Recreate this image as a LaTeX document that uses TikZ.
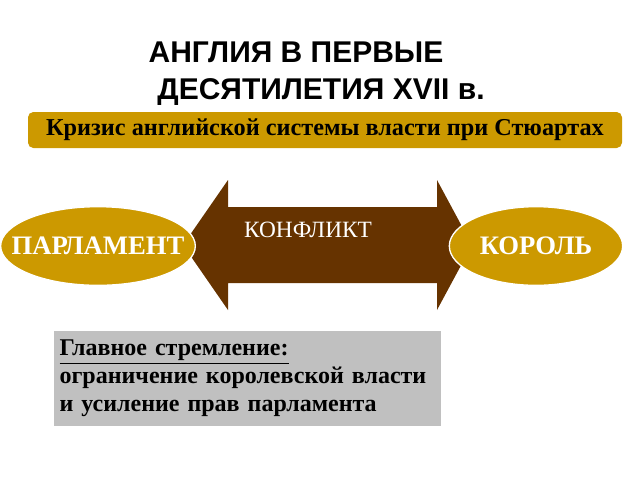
\documentclass[tikz,border=0pt]{standalone}
\usepackage{fontspec}
\setmainfont{Liberation Serif}
\newfontfamily\titlefont{Liberation Sans}
\usetikzlibrary{shapes.geometric}
\definecolor{gold}{HTML}{CC9900}
\definecolor{brownc}{HTML}{663300}
\definecolor{grayc}{HTML}{C0C0C0}
\tikzset{oval/.style={ellipse,fill=gold,draw=white,line width=1pt,inner sep=0pt},
ovaltext/.style={text=white,font=\bfseries\fontsize{20}{20}\selectfont}}
\begin{document}
\begin{tikzpicture}[x=0.75pt,y=-0.75pt]
\useasboundingbox (0,0) rectangle (640,480);
\node (t1) at (296,52) {\titlefont\bfseries\fontsize{22.5}{22.5}\selectfont АНГЛИЯ В ПЕРВЫЕ};
\node (t2) at (321,92) {\titlefont\bfseries\fontsize{22.5}{22.5}\selectfont ДЕСЯТИЛЕТИЯ XVII в.};
\node (banner) [fill=gold,rounded corners=4pt,minimum width=445.5pt,minimum height=27pt,inner sep=0pt,font=\bfseries\fontsize{18.2}{18.2}\selectfont] at (325,130) {Кризис английской системы власти при Стюартах};
\fill[brownc] (183,245) -- (228,180) -- (228,207) -- (437,207) -- (437,180) -- (472,245) -- (437,310) -- (437,283) -- (228,283) -- (228,310) -- cycle;
\node (conf) [text=white,font=\fontsize{17.5}{17.5}\selectfont] at (308,230) {КОНФЛИКТ};
\node (parl) [oval,minimum width=146pt,minimum height=59pt] at (98,246) {};
\node (parlt) [ovaltext] at (parl.center) {ПАРЛАМЕНТ};
\node (king) [oval,minimum width=130pt,minimum height=59pt] at (536,246) {};
\node (kingt) [ovaltext] at (king.center) {КОРОЛЬ};
\node (goal) [fill=grayc,minimum width=290pt,minimum height=71pt,anchor=north west,align=left,inner sep=4pt,text width=282pt,font=\bfseries\fontsize{18}{21}\selectfont] at (54,331) {\underline{Главное стремление:}\\ограничение королевской власти\\и усиление прав парламента};
\end{tikzpicture}
\end{document}
